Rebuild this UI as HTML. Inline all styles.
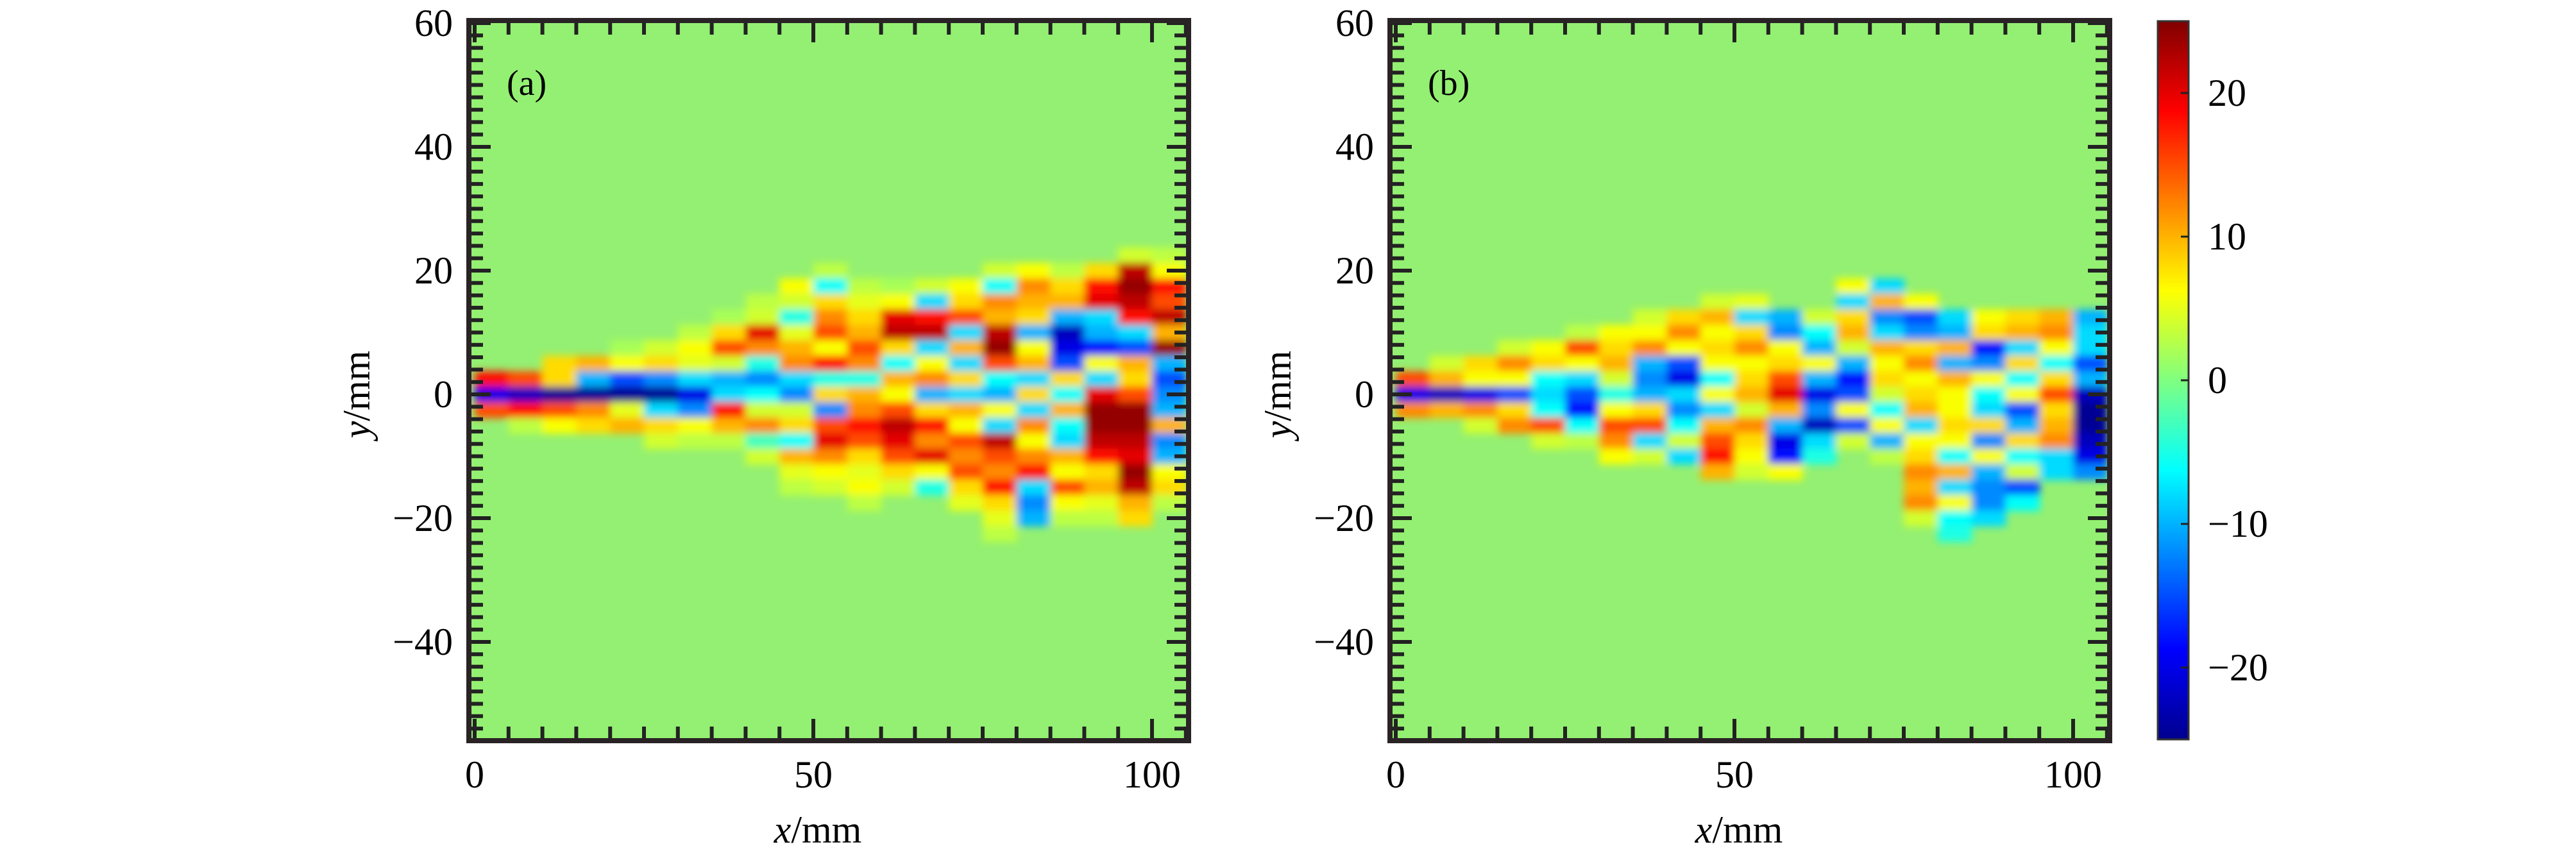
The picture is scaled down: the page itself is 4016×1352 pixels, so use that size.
<!DOCTYPE html>
<html><head><meta charset="utf-8"><style>
html,body{margin:0;padding:0;background:#fff;}
svg text{font-family:"Liberation Serif",serif;}
</style></head><body>
<svg id="fig" width="4016" height="1347" viewBox="0 0 4016 1347" xmlns="http://www.w3.org/2000/svg">
<defs>
<filter id="blur" x="-5%" y="-5%" width="110%" height="110%"><feGaussianBlur stdDeviation="6"/></filter>
<clipPath id="clipA"><rect x="735" y="36" width="1114" height="1115"/></clipPath>
<clipPath id="clipB"><rect x="2171" y="36" width="1114" height="1115"/></clipPath>
<linearGradient id="jetGrad" x1="0" y1="1" x2="0" y2="0">
<stop offset="0" stop-color="#00008f"/><stop offset="0.125" stop-color="#0000ff"/>
<stop offset="0.375" stop-color="#00ffff"/><stop offset="0.5" stop-color="#80ff80"/>
<stop offset="0.625" stop-color="#ffff00"/><stop offset="0.875" stop-color="#ff0000"/>
<stop offset="1" stop-color="#800000"/></linearGradient>
</defs>
<g id="root"></g>
</svg>
<script>
// ---- data: vorticity-like field, columns at x (mm), rows at y (mm) ----
const colsX = [2.5,7.5,12.5,17.5,22.5,27.5,32.5,37.5,42.5,47.5,52.5,57.5,62.5,67.5,72.5,77.5,82.5,87.5,92.5,97.5,102.5];
const rowsY = [22.5,20,17.5,15,12.5,10,7.5,5,2.5,0,-2.5,-5,-7.5,-10,-12.5,-15,-17.5,-20,-22.5];
const backgroundValue = 1;
const gridA = [
[1,1,1,1,1,1,1,1,18,-20,15,1,1,1,1,1,1,1,1],
[1,1,1,1,1,1,1,1,15,-22,18,3,1,1,1,1,1,1,1],
[1,1,1,1,1,1,1,8,8,-24,15,6,1,1,1,1,1,1,1],
[1,1,1,1,1,1,1,10,-10,-24,12,8,1,1,1,1,1,1,1],
[1,1,1,1,1,1,2,6,-15,-24,5,10,1,1,1,1,1,1,1],
[1,1,1,1,1,1,4,8,-12,-24,-8,8,4,1,1,1,1,1,1],
[1,1,1,1,1,3,6,5,-8,-20,-12,6,3,1,1,1,1,1,1],
[1,1,1,1,2,8,15,4,-10,-8,18,10,3,1,1,1,1,1,1],
[1,1,1,3,4,20,12,-5,-12,-6,4,12,-3,4,1,1,1,1,1],
[1,1,6,4,-5,5,10,12,-8,-12,4,8,-6,10,5,3,1,1,1],
[1,3,-6,8,12,15,6,18,-5,8,-12,15,20,12,6,4,1,1,1],
[1,1,3,5,8,10,15,12,-5,10,12,18,15,8,5,6,3,1,1],
[1,1,2,6,20,22,8,-6,10,6,15,22,20,15,8,4,1,1,1],
[1,1,4,-8,18,22,-8,6,12,-10,8,18,12,20,6,-5,1,1,1],
[1,1,6,8,15,-8,10,-8,8,-8,10,6,15,12,15,8,5,1,1],
[1,4,-6,12,10,22,24,15,-6,-10,6,-8,22,15,12,18,8,5,3],
[1,6,12,10,8,-10,6,10,-8,8,-8,12,6,12,18,-8,-12,-10,1],
[1,3,8,10,-10,-22,-20,-15,8,-6,10,-6,-8,10,6,15,6,3,1],
[1,8,18,20,-8,-10,-18,6,-8,20,24,24,22,18,8,10,5,3,1],
[4,22,24,22,18,-8,-15,10,8,15,24,24,22,20,24,22,10,8,1],
[3,6,18,15,22,10,24,-10,-15,-12,-10,10,-12,-10,6,8,3,1,1]
];
const gridB = [
[1,1,1,1,1,1,1,1,15,-20,12,1,1,1,1,1,1,1,1],
[1,1,1,1,1,1,1,4,10,-22,10,1,1,1,1,1,1,1,1],
[1,1,1,1,1,1,1,8,6,-20,12,4,1,1,1,1,1,1,1],
[1,1,1,1,1,1,4,12,6,-15,8,12,1,1,1,1,1,1,1],
[1,1,1,1,1,1,6,8,-6,-8,-6,15,4,1,1,1,1,1,1],
[1,1,1,1,1,3,15,6,-8,-15,-18,-6,3,1,1,1,1,1,1],
[1,1,1,1,1,6,8,10,4,-5,6,15,12,6,1,1,1,1,1],
[1,1,1,1,4,6,12,-10,-12,-10,8,15,-8,4,1,1,1,1,1],
[1,1,1,1,8,12,6,-15,-20,-8,-12,-6,4,-8,1,1,1,1,1],
[1,1,1,4,10,6,8,6,-6,6,-8,10,15,18,10,1,1,1,1],
[1,1,1,5,-8,8,12,6,8,10,4,12,8,6,4,1,1,1,1],
[1,1,1,1,-10,-12,6,8,15,20,10,-10,-20,-18,6,1,1,1,1],
[1,1,1,1,4,-6,-10,6,-10,-20,-12,-22,-8,-5,1,1,1,1,1],
[1,1,6,-8,8,10,4,-10,-18,-15,6,-15,4,1,1,1,1,1,1],
[1,1,-8,10,-12,-8,10,6,8,4,-6,6,-10,3,1,1,1,1,1],
[1,1,1,6,-15,-12,8,12,6,8,10,-8,6,8,12,10,12,4,1],
[1,1,1,1,-8,-10,10,-10,10,6,6,8,6,-6,10,-8,6,-6,-5],
[1,1,1,1,6,8,-18,-12,6,-6,-8,8,-12,6,-10,-12,-12,-8,1],
[1,1,1,1,8,10,-8,8,-6,6,-15,-10,8,-6,4,-15,-6,1,1],
[1,1,1,1,10,12,6,-6,8,15,8,10,12,-8,-8,1,1,1,1],
[1,1,1,1,-10,-8,-8,-15,-10,-22,-24,-24,-22,-20,-12,1,1,1,1]
];
const xTicks = [0,50,100];
const yTicks = [60,40,20,0,-20,-40];
const cbTicks = [20,10,0,-10,-20];
const cMin = -25, cMax = 25;

const NS = "http://www.w3.org/2000/svg";
const root = document.getElementById('root');
function mk(tag, attrs, parent){const e=document.createElementNS(NS,tag);for(const k in attrs)e.setAttribute(k,attrs[k]);(parent||root).appendChild(e);return e;}
function jet(v){let t=(v-cMin)/(cMax-cMin);t=Math.max(0,Math.min(1,t));
 const c=x=>Math.round(255*Math.max(0,Math.min(1,x)));
 return `rgb(${c(1.5-Math.abs(4*t-3))},${c(1.5-Math.abs(4*t-2))},${c(1.5-Math.abs(4*t-1))})`;}

const PX_MM_X = 10.56, PX_MM_Y = 9.65;
const yAxis = v => 615 - v*PX_MM_Y;
const cbY = v => 33 + (cMax - v)/(cMax-cMin)*1120;

function panel(offset, grid, clipId, label, key){
  const xAxis = v => 740 + offset + v*PX_MM_X;
  const L = 735+offset, R = 1849+offset, T = 36, B = 1151;
  const g = mk('g',{});
  
  
  const bg = mk('rect',{x:L,y:T,width:R-L,height:B-T,fill:'#94f072'},g);
  
  
  const cg = mk('g',{'clip-path':`url(#${clipId})`},g);
  const hg = mk('g',{filter:'url(#blur)'},cg);
  
  
  const dx = colsX[1]-colsX[0], dy = rowsY[0]-rowsY[1];
  grid.forEach((col,i)=>{
    col.forEach((v,j)=>{
      if (v === backgroundValue) return;
      const x0 = xAxis(colsX[i]-dx/2), x1 = xAxis(colsX[i]+dx/2);
      const y0 = yAxis(rowsY[j]+dy/2), y1 = yAxis(rowsY[j]-dy/2);
      const r = mk('rect',{x:x0,y:y0,width:x1-x0+1,height:y1-y0+1,fill:jet(v)},hg);
      
      
    });
  });
  const tk = mk('g',{stroke:'#222',"stroke-width":6},g);
  
  
  for(let m=0;m<=105;m+=5){const x=xAxis(m);const len=(m%50===0)?30:18;
    mk('line',{x1:x,y1:T,x2:x,y2:T+len},tk);mk('line',{x1:x,y1:B,x2:x,y2:B-len},tk);}
  for(let m=-54;m<=60;m+=2){const y=yAxis(m);const len=(m%20===0)?30:18;
    mk('line',{x1:L,y1:y,x2:L+len,y2:y},tk);mk('line',{x1:R,y1:y,x2:R-len,y2:y},tk);}
  const fr = mk('rect',{x:L-4,y:T-4,width:R-L+8,height:B-T+8,fill:'none',stroke:'#2a2326',"stroke-width":8},g);
  
  
  xTicks.forEach(v=>{const t=mk('text',{x:xAxis(v),y:1228,'font-size':60,'text-anchor':'middle'},g);t.textContent=v;
    
    });
  yTicks.forEach(v=>{const t=mk('text',{x:706+offset,y:yAxis(v)+20,'font-size':60,'text-anchor':'end'},g);t.textContent=v<0?'\u2212'+(-v):v;
    
    });
  const xl = mk('text',{x:1275+offset,y:1314,'font-size':60,'text-anchor':'middle'},g);
  xl.innerHTML='<tspan font-style="italic">x</tspan>/mm';
  
  
  const yl = mk('text',{x:0,y:0,'font-size':60,'text-anchor':'middle',transform:`translate(${576+offset},615) rotate(-90)`},g);
  yl.innerHTML='<tspan font-style="italic">y</tspan>/mm';
  
  
  const pl = mk('text',{x:790+offset,y:148,'font-size':56},g);
  pl.textContent=label;
  
  
}
panel(0, gridA, 'clipA', '(a)', 'a');
panel(1436, gridB, 'clipB', '(b)', 'b');

const cb = mk('g',{});


const cbr = mk('rect',{x:3364,y:33,width:48,height:1120,fill:'url(#jetGrad)',stroke:'#333',"stroke-width":3},cb);


cbTicks.forEach(v=>{
  mk('line',{x1:3400,y1:cbY(v),x2:3412,y2:cbY(v),stroke:'#222',"stroke-width":3},cb);
  const t=mk('text',{x:3442,y:cbY(v)+20,'font-size':60},cb);
  t.textContent=v<0?'\u2212'+(-v):v;
  
  
});
</script>
</body></html>
